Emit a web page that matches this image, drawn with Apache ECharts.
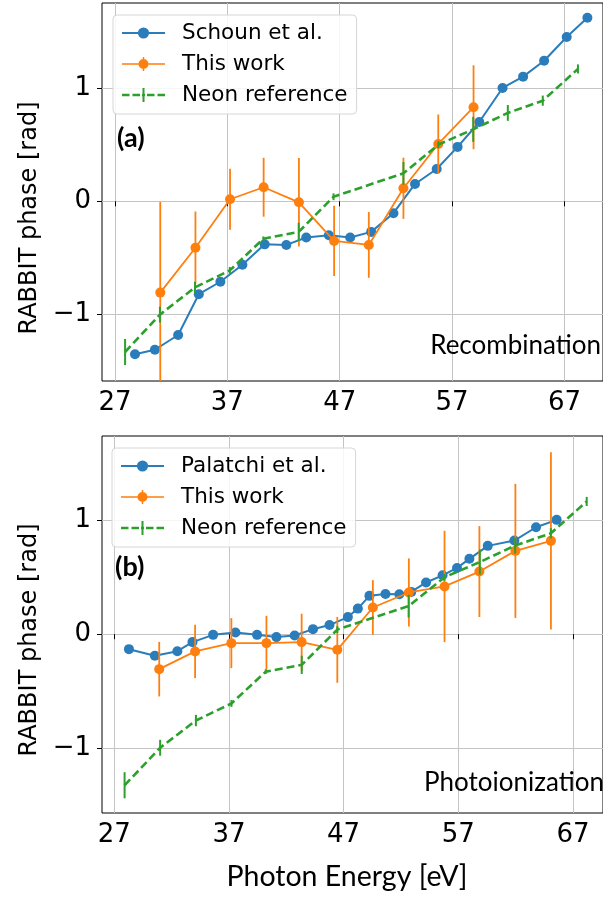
<!DOCTYPE html>
<html>
<head>
<meta charset="utf-8">
<script src="https://cdn.jsdelivr.net/npm/echarts@6.0.0/dist/echarts.min.js"></script>
<style>
html,body{margin:0;padding:0;background:#fff;}
#chart{width:603px;height:899px;}
</style>
</head>
<body>
<div id="chart"></div>
<script>
// ---------- data ----------
const xTicks = [27, 37, 47, 57, 67];
const yTicks = [-1, 0, 1];

// panel (a) Recombination
const schounX = [28.78, 30.55, 32.62, 34.46, 36.38, 38.34, 40.32, 42.25, 44.02, 46.03, 47.93, 49.80, 51.78, 53.70, 55.63, 57.49, 59.42, 61.49, 63.32, 65.19, 67.20, 69.04];
const schounY = [-1.35, -1.31, -1.18, -0.82, -0.71, -0.56, -0.38, -0.385, -0.32, -0.30, -0.32, -0.27, -0.105, 0.153, 0.285, 0.48, 0.70, 1.00, 1.10, 1.24, 1.45, 1.62];

const recX = [31.03, 34.16, 37.24, 40.23, 43.37, 46.50, 49.59, 52.67, 55.77, 58.91];
const recY = [-0.806, -0.41, 0.018, 0.124, -0.009, -0.35, -0.385, 0.115, 0.506, 0.83];
const recErr = [0.80, 0.32, 0.27, 0.26, 0.39, 0.31, 0.29, 0.27, 0.26, 0.37];

// neon reference (both panels)
const neonX = [27.90, 31.00, 34.12, 37.22, 40.21, 43.35, 46.45, 52.67, 55.78, 58.88, 61.96, 65.07, 68.20];
const neonY = [-1.33, -1.00, -0.76, -0.61, -0.33, -0.27, 0.04, 0.247, 0.50, 0.635, 0.78, 0.888, 1.168];
const neonErr = [0.115, 0.07, 0.05, 0.03, 0.02, 0.08, 0.03, 0.10, 0.03, 0.11, 0.07, 0.045, 0.04];

// panel (b) Photoionization
const palX = [28.28, 30.54, 32.50, 33.82, 35.62, 37.57, 39.45, 41.14, 42.73, 44.33, 45.77, 47.37, 48.24, 49.25, 50.65, 51.86, 52.90, 54.19, 55.63, 56.89, 57.97, 59.57, 61.89, 63.78, 65.58];
const palY = [-0.132, -0.19, -0.15, -0.07, -0.006, 0.015, -0.006, -0.026, -0.012, 0.044, 0.08, 0.15, 0.225, 0.337, 0.353, 0.352, 0.372, 0.455, 0.518, 0.583, 0.663, 0.777, 0.824, 0.941, 1.006];

const ionX = [30.92, 34.05, 37.21, 40.27, 43.34, 46.45, 49.55, 52.69, 55.80, 58.84, 61.98, 65.08];
const ionY = [-0.308, -0.152, -0.079, -0.079, -0.07, -0.138, 0.235, 0.367, 0.42, 0.551, 0.733, 0.821];
const ionErr = [0.24, 0.235, 0.22, 0.24, 0.25, 0.29, 0.24, 0.30, 0.49, 0.40, 0.59, 0.78];

// ---------- helpers ----------
const BLUE = '#2a7dba', ORANGE = '#ff7f0e', GREEN = '#2ca02c';
const zip = (xs, ys) => xs.map((x, i) => [x, ys[i]]);
const zip3 = (xs, ys, es) => xs.map((x, i) => [x, ys[i], es[i]]);
const fmt = v => (v < 0 ? '\u2212' + Math.abs(v) : String(v));

function errRender(color, width) {
  return function (params, api) {
    const x = api.value(0), y = api.value(1), e = api.value(2);
    const p1 = api.coord([x, y - e]);
    const p2 = api.coord([x, y + e]);
    return {
      type: 'line',
      shape: { x1: p1[0], y1: p1[1], x2: p2[0], y2: p2[1] },
      style: { stroke: color, lineWidth: width }
    };
  };
}

const TICK_FONT = 'DejaVu Sans';
function xAxisCfg(gi, min, max) {
  return {
    type: 'value', gridIndex: gi, min: min, max: max,
    axisLine: { show: false },
    axisTick: { show: true, inside: false, length: 5, lineStyle: { color: '#000', width: 1 }, customValues: xTicks },
    axisLabel: { show: true, margin: 9, color: '#000', fontFamily: TICK_FONT, fontSize: 26, customValues: xTicks, formatter: fmt },
    splitLine: { show: true, lineStyle: { color: '#c4c4c4', width: 1 } }
  };
}
function yAxisCfg(gi, min, max) {
  return {
    type: 'value', gridIndex: gi, min: min, max: max,
    axisLine: { show: false },
    axisTick: { show: true, inside: false, length: 5, lineStyle: { color: '#000', width: 1 }, customValues: yTicks },
    axisLabel: { show: true, margin: 11, color: '#000', fontFamily: TICK_FONT, fontSize: 26, customValues: yTicks, formatter: fmt },
    splitLine: { show: true, lineStyle: { color: '#c4c4c4', width: 1 } }
  };
}

const ORANGE_ICON = 'path://M0,6.25 H43 V7.75 H0 Z M26.5,7 A5,5 0 1,1 16.5,7 A5,5 0 1,1 26.5,7 Z M20.75,0 H22.25 V14 H20.75 Z';
const NEON_ICON = 'path://M0,5.75 H7.5 V8.25 H0 Z M10.5,5.75 H18 V8.25 H10.5 Z M20,5.75 H23 V8.25 H20 Z M25,5.75 H32.5 V8.25 H25 Z M35.5,5.75 H43 V8.25 H35.5 Z M20.5,0 H22.5 V14 H20.5 Z';

function legendCfg(top, left, firstName) {
  return {
    orient: 'vertical', left: left, top: top,
    itemWidth: 43, itemHeight: 14, itemGap: 9,
    padding: [7, 9, 8, 8],
    backgroundColor: 'rgba(255,255,255,0.85)',
    borderColor: '#d6d6d6', borderWidth: 1, borderRadius: 4,
    selectedMode: false,
    textStyle: { fontFamily: 'DejaVu Sans', fontSize: 21.5, color: '#000', lineHeight: 22, padding: [0, 0, 0, 12] },
    itemStyle: { borderWidth: 0 },
    data: [
      { name: firstName },
      { name: 'This work', icon: ORANGE_ICON, itemStyle: { color: ORANGE, borderWidth: 0 } },
      { name: 'Neon reference', icon: NEON_ICON, itemStyle: { color: GREEN, borderWidth: 0 } }
    ]
  };
}

function panelSeries(gi, refName, refX, refY, workX, workY, workErr) {
  return [
    {
      name: refName, type: 'line', xAxisIndex: gi, yAxisIndex: gi,
      data: zip(refX, refY), symbol: 'circle', symbolSize: 10, z: 2,
      lineStyle: { color: BLUE, width: 2 }, itemStyle: { color: BLUE, borderWidth: 0 }
    },
    {
      name: 'This work', type: 'line', xAxisIndex: gi, yAxisIndex: gi,
      data: zip(workX, workY), symbol: 'circle', symbolSize: 10, z: 3,
      lineStyle: { color: ORANGE, width: 1.8 }, itemStyle: { color: ORANGE, borderWidth: 0 }
    },
    {
      name: 'This work err', type: 'custom', xAxisIndex: gi, yAxisIndex: gi, clip: true, z: 3,
      data: zip3(workX, workY, workErr), encode: { x: 0, y: 1 },
      renderItem: errRender(ORANGE, 1.8)
    },
    {
      name: 'Neon reference', type: 'line', xAxisIndex: gi, yAxisIndex: gi,
      data: zip(neonX, neonY), symbol: 'none', z: 4,
      lineStyle: { color: GREEN, width: 2.6, type: [8, 4] }, itemStyle: { color: GREEN }
    },
    {
      name: 'Neon err', type: 'custom', xAxisIndex: gi, yAxisIndex: gi, clip: true, z: 4,
      data: zip3(neonX, neonY, neonErr), encode: { x: 0, y: 1 },
      renderItem: errRender(GREEN, 2)
    }
  ];
}

const CAL = 'Lato';
const option = {
  animation: false,
  backgroundColor: '#fff',
  grid: [
    { left: 102, top: 3, width: 502, height: 378, show: true, borderColor: '#000', borderWidth: 1, backgroundColor: 'transparent' },
    { left: 102, top: 436, width: 502, height: 377, show: true, borderColor: '#000', borderWidth: 1, backgroundColor: 'transparent' }
  ],
  xAxis: [xAxisCfg(0, 25.845, 70.43), xAxisCfg(1, 25.93, 69.62)],
  yAxis: [yAxisCfg(0, -1.586, 1.75), yAxisCfg(1, -1.574, 1.744)],
  legend: [legendCfg(15, 113, 'Schoun et al.'), legendCfg(448, 112, 'Palatchi et al.')],
  series: [].concat(
    panelSeries(0, 'Schoun et al.', schounX, schounY, recX, recY, recErr),
    panelSeries(1, 'Palatchi et al.', palX, palY, ionX, ionY, ionErr)
  ),
  graphic: [
    { type: 'text', x: 30, y: 218, rotation: Math.PI / 2, style: { text: 'RABBIT phase [rad]', font: '24px "DejaVu Sans"', fill: '#000', align: 'center', verticalAlign: 'middle' } },
    { type: 'text', x: 30, y: 640, rotation: Math.PI / 2, style: { text: 'RABBIT phase [rad]', font: '24px "DejaVu Sans"', fill: '#000', align: 'center', verticalAlign: 'middle' } },
    { type: 'text', x: 347, y: 877, style: { text: 'Photon Energy [eV]', font: '28.5px ' + CAL, fill: '#000', align: 'center', verticalAlign: 'middle' } },
    { type: 'text', x: 117, y: 138, z: 10, style: { text: '(a)', font: 'bold 27px ' + CAL, fill: '#000', align: 'left', verticalAlign: 'middle' } },
    { type: 'text', x: 115, y: 567, z: 10, style: { text: '(b)', font: 'bold 27px ' + CAL, fill: '#000', align: 'left', verticalAlign: 'middle' } },
    { type: 'text', x: 601, y: 346, z: 10, style: { text: 'Recombination', font: '26px ' + CAL, fill: '#000', align: 'right', verticalAlign: 'middle' } },
    { type: 'text', x: 604, y: 783, z: 10, style: { text: 'Photoionization', font: '26px ' + CAL, fill: '#000', align: 'right', verticalAlign: 'middle' } }
  ]
};

const chart = echarts.init(document.getElementById('chart'), null, { renderer: 'canvas' });
chart.setOption(option);
</script>
</body>
</html>
